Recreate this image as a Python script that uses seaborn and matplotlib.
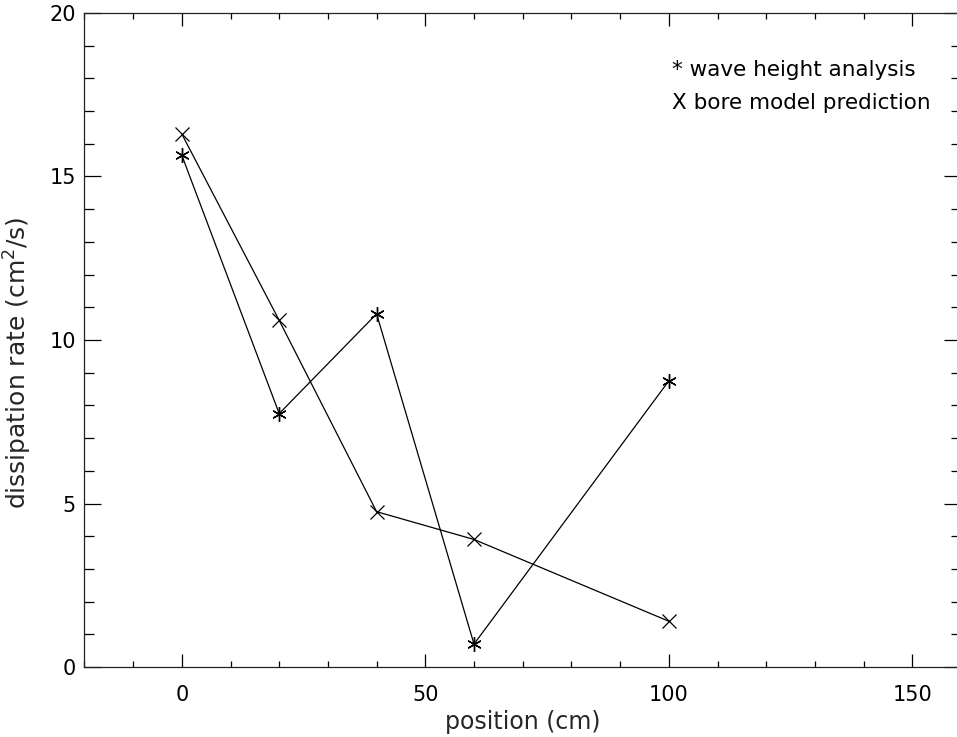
import matplotlib
matplotlib.use("Agg")
import matplotlib.pyplot as plt
from matplotlib.ticker import MultipleLocator
import seaborn as sns
import pandas as pd

positions = [0, 20, 40, 60, 100]
wave_height = [15.65, 7.75, 10.8, 0.7, 8.75]
bore_model = [16.3, 10.6, 4.75, 3.9, 1.4]
legend_lines = ["* wave height analysis", "X bore model prediction"]

sns.set_theme(style="ticks")
plt.rcParams["font.family"] = ["DejaVu Sans"]

fig = plt.figure(figsize=(9.57, 7.37), dpi=100)
left_px, right_px, top_px, bottom_px = 84.4, 961.0, 13.0, 667.0
ax = fig.add_axes([left_px / 957, (737 - bottom_px) / 737,
                   (right_px - left_px) / 957, (bottom_px - top_px) / 737])

df_w = pd.DataFrame({"x": positions, "y": wave_height})
df_b = pd.DataFrame({"x": positions, "y": bore_model})
sns.lineplot(data=df_w, x="x", y="y", ax=ax, color="black", linewidth=0.9,
             marker=(6, 2, 0), markersize=10.5, markeredgewidth=1.0,
             markeredgecolor="black", sort=False)
sns.lineplot(data=df_b, x="x", y="y", ax=ax, color="black", linewidth=0.9,
             marker="x", markersize=10, markeredgewidth=0.9,
             markeredgecolor="black", sort=False)

ax.set_xlim(-20, 160)
ax.set_ylim(0, 20)
ax.xaxis.set_major_locator(MultipleLocator(50))
ax.xaxis.set_minor_locator(MultipleLocator(10))
ax.yaxis.set_major_locator(MultipleLocator(5))
ax.yaxis.set_minor_locator(MultipleLocator(1))
ax.tick_params(which="both", direction="in", top=True, right=True,
               colors="black", labelsize=15, width=0.9)
ax.tick_params(axis="x", which="major", length=9.5, pad=13)
ax.tick_params(axis="x", which="minor", length=4.5)
ax.tick_params(axis="y", which="major", length=12, pad=6)
ax.tick_params(axis="y", which="minor", length=7)
for s in ax.spines.values():
    s.set_color("#222222")
    s.set_linewidth(0.9)

ax.set_xlabel("position (cm)", fontsize=17)
ax.set_ylabel("dissipation rate (cm$^2$/s)", fontsize=18)
ax.xaxis.set_label_coords(0.5, -0.066)
ax.yaxis.set_label_coords(-0.058, 0.465)

for i, t in enumerate(legend_lines):
    fig.text(672 / 957, 1 - (70 + 33 * i) / 737, t,
             fontsize=15.5, ha="left", va="center", color="black")

fig.savefig("out.png", dpi=100)
